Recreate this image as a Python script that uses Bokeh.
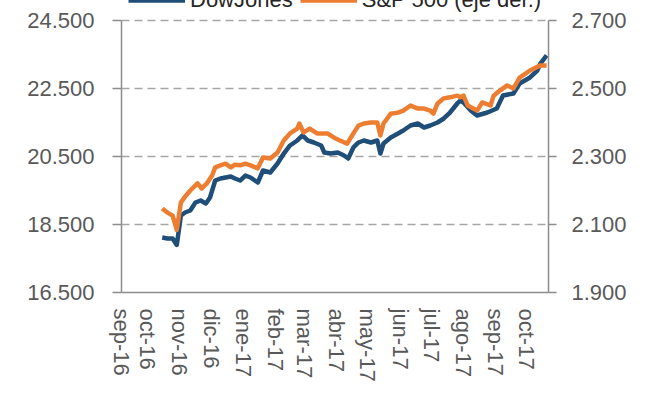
from datetime import date
from bokeh.plotting import figure
from bokeh.models import Range1d, LinearAxis, FixedTicker, Legend, LegendItem
from bokeh.embed import file_html
from bokeh.resources import INLINE

# ---------------- data ----------------
dj_dates = ["2016-10-15", "2016-10-20", "2016-10-25", "2016-10-29", "2016-11-02", "2016-11-06",
            "2016-11-11", "2016-11-16", "2016-11-21", "2016-11-26", "2016-11-30", "2016-12-05",
            "2016-12-10", "2016-12-15", "2016-12-20", "2016-12-24", "2016-12-29", "2017-01-03",
            "2017-01-08", "2017-01-15", "2017-01-20", "2017-01-27", "2017-02-03", "2017-02-09",
            "2017-02-15", "2017-02-22", "2017-02-27", "2017-03-04", "2017-03-10", "2017-03-17",
            "2017-03-20", "2017-03-26", "2017-04-02", "2017-04-08", "2017-04-12", "2017-04-17",
            "2017-04-22", "2017-04-27", "2017-05-04", "2017-05-10", "2017-05-13", "2017-05-16",
            "2017-05-23", "2017-05-30", "2017-06-04", "2017-06-11", "2017-06-18", "2017-06-24",
            "2017-06-30", "2017-07-07", "2017-07-13", "2017-07-19", "2017-07-26", "2017-07-29",
            "2017-08-01", "2017-08-08", "2017-08-14", "2017-08-24", "2017-09-02", "2017-09-08",
            "2017-09-18", "2017-09-24", "2017-10-04", "2017-10-11", "2017-10-14", "2017-10-20"]
dj_values = [18118, 18088, 18088, 17900, 18765, 18853,
             18912, 19147, 19206, 19118, 19294, 19794,
             19853, 19882, 19912, 19853, 19794, 19941,
             19882, 19735, 20088, 20029, 20294, 20588,
             20824, 20971, 21118, 20971, 20912, 20824,
             20618, 20588, 20618, 20529, 20441, 20765,
             20912, 20971, 20912, 20971, 20588, 20882,
             21059, 21176, 21265, 21412, 21471, 21353,
             21412, 21500, 21618, 21794, 22059, 22147,
             22088, 21853, 21706, 21794, 21912, 22294,
             22353, 22647, 22824, 23029, 23235, 23471]

sp_dates = ["2016-10-15", "2016-10-20", "2016-10-25", "2016-10-29", "2016-11-02", "2016-11-06",
            "2016-11-11", "2016-11-16", "2016-11-18", "2016-11-22", "2016-11-27", "2016-12-02",
            "2016-12-05", "2016-12-10", "2016-12-15", "2016-12-20", "2016-12-24", "2016-12-29",
            "2017-01-03", "2017-01-08", "2017-01-15", "2017-01-20", "2017-01-27", "2017-02-03",
            "2017-02-09", "2017-02-15", "2017-02-22", "2017-02-24", "2017-02-28", "2017-03-06",
            "2017-03-13", "2017-03-23", "2017-03-29", "2017-04-04", "2017-04-11", "2017-04-17",
            "2017-04-22", "2017-04-27", "2017-05-04", "2017-05-10", "2017-05-13", "2017-05-16",
            "2017-05-23", "2017-05-30", "2017-06-04", "2017-06-11", "2017-06-18", "2017-06-24",
            "2017-06-30", "2017-07-03", "2017-07-07", "2017-07-13", "2017-07-19", "2017-07-26",
            "2017-07-29", "2017-08-01", "2017-08-05", "2017-08-14", "2017-08-19", "2017-08-27",
            "2017-08-30", "2017-09-05", "2017-09-12", "2017-09-18", "2017-09-24", "2017-10-04",
            "2017-10-14", "2017-10-20"]
sp_values = [2147, 2135, 2126, 2084, 2165, 2182,
             2200, 2215, 2221, 2206, 2221, 2244,
             2268, 2274, 2279, 2268, 2276, 2274,
             2279, 2274, 2265, 2297, 2294, 2312,
             2347, 2368, 2382, 2397, 2371, 2382,
             2368, 2368, 2356, 2347, 2338, 2368,
             2391, 2397, 2400, 2400, 2362, 2397,
             2426, 2429, 2435, 2450, 2441, 2441,
             2435, 2426, 2456, 2471, 2474, 2479,
             2474, 2479, 2450, 2435, 2459, 2450,
             2479, 2494, 2509, 2500, 2532, 2553,
             2568, 2568]

month_starts = ["2016-09-01", "2016-10-01", "2016-11-01", "2016-12-01", "2017-01-01", "2017-02-01",
                "2017-03-01", "2017-04-01", "2017-05-01", "2017-06-01", "2017-07-01", "2017-08-01",
                "2017-09-01", "2017-10-01"]
month_labels = ["sep-16", "oct-16", "nov-16", "dic-16", "ene-17", "feb-17", "mar-17", "abr-17",
                "may-17", "jun-17", "jul-17", "ago-17", "sep-17", "oct-17"]

left_ticks = [16500, 18500, 20500, 22500, 24500]
left_labels = ["16.500", "18.500", "20.500", "22.500", "24.500"]
right_ticks = [1900, 2100, 2300, 2500, 2700]
right_labels = ["1.900", "2.100", "2.300", "2.500", "2.700"]

series_names = ["DowJones", "S&P 500 (eje der.)"]

# ---------------- helpers ----------------
ORIGIN = date(2016, 9, 1)


def to_days(s):
    return (date.fromisoformat(s) - ORIGIN).days


dj_x = [to_days(d) for d in dj_dates]
sp_x = [to_days(d) for d in sp_dates]

X_START, X_END = 4.8, 415.8
tick_vals = [max(float(to_days(d)), X_START + 0.05) for d in month_starts]

# frame spans the whole top of the canvas; the axes stop at the top tick (bounds)
PLOT_H = 272.0   # pixels between lowest and highest tick
TOP_PAD = 20.0   # pixels above highest tick (room for the cut-off legend)
L_MIN, L_MAX = left_ticks[0], left_ticks[-1]
R_MIN, R_MAX = right_ticks[0], right_ticks[-1]
L_TOP = L_MAX + (L_MAX - L_MIN) * TOP_PAD / PLOT_H
R_TOP = R_MAX + (R_MAX - R_MIN) * TOP_PAD / PLOT_H

FONT = "Liberation Sans"
GREY_TXT = "#595959"
AXIS_COL = "#8c8c8c"

p = figure(width=639, height=397, output_backend="svg", toolbar_location=None,
           x_range=Range1d(X_START, X_END), y_range=Range1d(L_MIN, L_TOP),
           min_border_left=121, min_border_right=91, min_border_top=0, min_border_bottom=105)
p.outline_line_color = None
p.background_fill_color = "white"
p.border_fill_color = "white"

p.extra_y_ranges = {"sp": Range1d(R_MIN, R_TOP)}

# grid
p.xgrid.visible = False
p.ygrid.ticker = FixedTicker(ticks=left_ticks)
p.ygrid.grid_line_color = "#a6a6a6"
p.ygrid.grid_line_dash = "8 5"
p.ygrid.grid_line_width = 1.3

# x axis
xa = p.xaxis[0]
xa.ticker = FixedTicker(ticks=tick_vals)
xa.major_label_overrides = {v: lab for v, lab in zip(tick_vals, month_labels)}
xa.major_label_orientation = "vertical"
xa.major_tick_out = 0
xa.major_tick_in = 0
xa.minor_tick_out = 0
xa.minor_tick_in = 0
xa.major_label_standoff = 16
xa.axis_line_color = AXIS_COL
xa.axis_line_width = 1.5
xa.major_label_text_font = FONT
xa.major_label_text_font_size = "22px"
xa.major_label_text_color = GREY_TXT

# left axis
ya = p.yaxis[0]
ya.bounds = (L_MIN, L_MAX)
ya.ticker = FixedTicker(ticks=left_ticks)
ya.major_label_overrides = {v: lab for v, lab in zip(left_ticks, left_labels)}
ya.major_tick_out = 9
ya.major_tick_in = 0
ya.minor_tick_out = 0
ya.minor_tick_in = 0
ya.major_tick_line_color = AXIS_COL
ya.major_tick_line_width = 1.5
ya.major_label_standoff = 18
ya.axis_line_color = AXIS_COL
ya.axis_line_width = 1.5
ya.major_label_text_font = FONT
ya.major_label_text_font_size = "22px"
ya.major_label_text_color = GREY_TXT

# right axis
ra = LinearAxis(y_range_name="sp", ticker=FixedTicker(ticks=right_ticks), bounds=(R_MIN, R_MAX))
ra.major_label_overrides = {v: lab for v, lab in zip(right_ticks, right_labels)}
ra.major_tick_out = 8
ra.major_tick_in = 0
ra.minor_tick_out = 0
ra.minor_tick_in = 0
ra.major_tick_line_color = AXIS_COL
ra.major_tick_line_width = 1.5
ra.major_label_standoff = 15
ra.axis_line_color = AXIS_COL
ra.axis_line_width = 1.5
ra.major_label_text_font = FONT
ra.major_label_text_font_size = "22px"
ra.major_label_text_color = GREY_TXT
p.add_layout(ra, "right")

# series
r_dj = p.line(dj_x, dj_values, line_color="#1f4e79", line_width=4.5, line_join="round")
r_sp = p.line(sp_x, sp_values, y_range_name="sp", line_color="#ed7d31", line_width=4.5,
              line_join="round")

legend = Legend(items=[LegendItem(label=series_names[0], renderers=[r_dj]),
                       LegendItem(label=series_names[1], renderers=[r_sp])],
                orientation="horizontal", location=(7, 279), padding=0, margin=0,
                spacing=7, glyph_width=57, glyph_height=12, label_standoff=5,
                label_text_font=FONT, label_text_font_size="22px",
                label_text_color="#262626", border_line_alpha=0, background_fill_alpha=0)
p.add_layout(legend, "center")

open("out.html", "w").write(file_html(p, INLINE))
